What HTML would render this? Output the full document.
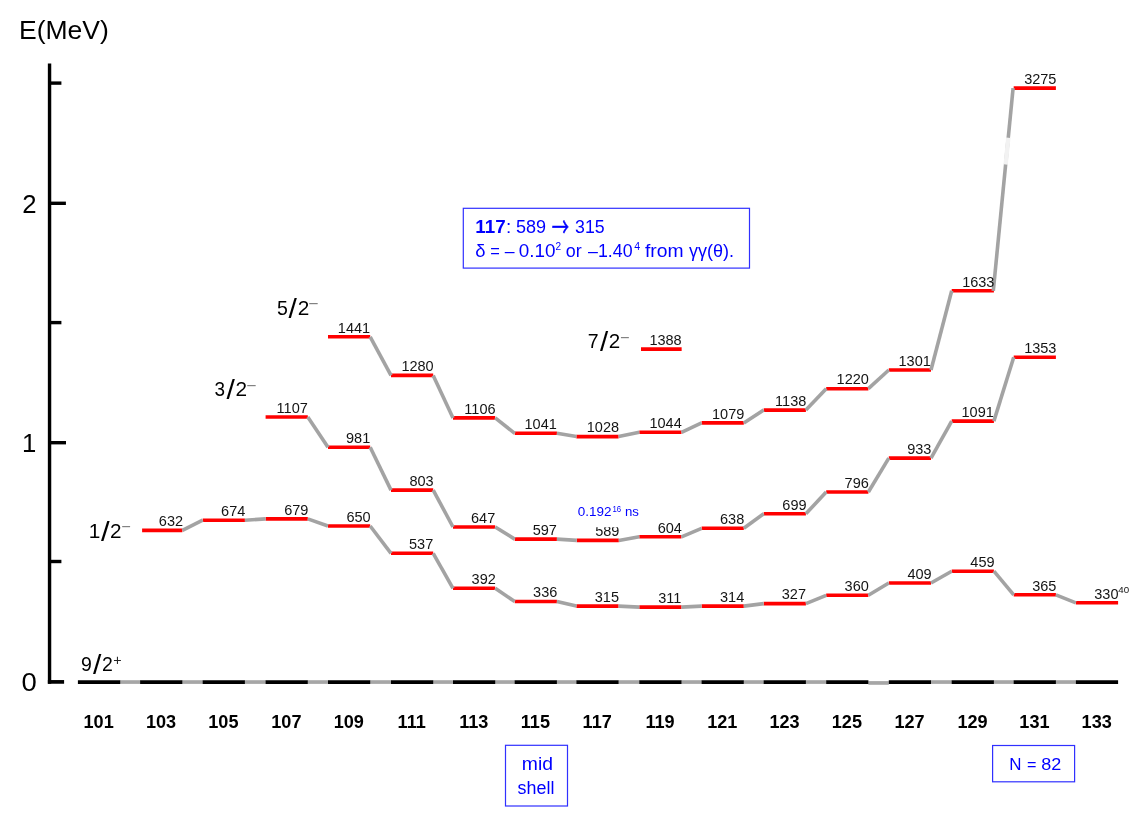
<!DOCTYPE html>
<html lang="en"><head><meta charset="utf-8"><title>Level systematics</title>
<style>html,body{margin:0;padding:0;background:#fff;overflow:hidden}svg{display:block}text{font-family:"Liberation Sans", sans-serif;white-space:pre}</style></head><body>
<svg width="1142" height="819" viewBox="0 0 1142 819">
<rect width="1142" height="819" fill="#fff"/>
<g stroke="#000" stroke-width="3.4" fill="none">
<path d="M49.55 63.5V683.7"/>
<path d="M49.55 83.1H61.4"/>
<path d="M49.55 203.3H65.9"/>
<path d="M49.55 322.6H61.4"/>
<path d="M49.55 442.7H66.0"/>
<path d="M49.55 561.5H61.4"/>
<path stroke-width="3.7" d="M47.85 681.9H64.1"/>
</g>
<g stroke-width="3.7" fill="none">
<path stroke="#a6a6a6" d="M119.9 682.05H140.3"/>
<path stroke="#a6a6a6" d="M181.9 682.05H203.0"/>
<path stroke="#a6a6a6" d="M244.6 682.05H265.9"/>
<path stroke="#a6a6a6" d="M307.5 682.05H328.3"/>
<path stroke="#a6a6a6" d="M369.9 682.05H391.3"/>
<path stroke="#a6a6a6" d="M432.9 682.05H453.3"/>
<path stroke="#a6a6a6" d="M494.9 682.05H515.0"/>
<path stroke="#a6a6a6" d="M556.6 682.05H576.7"/>
<path stroke="#a6a6a6" d="M618.3 682.05H639.6"/>
<path stroke="#a6a6a6" d="M681.2 682.05H701.9"/>
<path stroke="#a6a6a6" d="M743.5 682.05H764.0"/>
<path stroke="#a6a6a6" d="M805.6 682.05H826.5"/>
<path stroke="#a6a6a6" d="M868.4 682.95H888.8"/>
<path stroke="#a6a6a6" d="M930.7 682.05H952.0"/>
<path stroke="#a6a6a6" d="M993.6 682.05H1014.0"/>
<path stroke="#a6a6a6" d="M1055.6 682.05H1076.2"/>
<path stroke="#000" d="M77.9 682.05H120.2"/>
<path stroke="#000" d="M140.1 682.05H182.3"/>
<path stroke="#000" d="M202.7 682.05H244.9"/>
<path stroke="#000" d="M265.6 682.05H307.8"/>
<path stroke="#000" d="M328.0 682.05H370.2"/>
<path stroke="#000" d="M391.0 682.05H433.2"/>
<path stroke="#000" d="M453.0 682.05H495.2"/>
<path stroke="#000" d="M514.7 682.05H556.9"/>
<path stroke="#000" d="M576.4 682.05H618.6"/>
<path stroke="#000" d="M639.3 682.05H681.5"/>
<path stroke="#000" d="M701.6 682.05H743.8"/>
<path stroke="#000" d="M763.7 682.05H805.9"/>
<path stroke="#000" d="M826.2 682.05H868.4"/>
<path stroke="#000" d="M888.8 682.05H931.0"/>
<path stroke="#000" d="M951.7 682.05H993.9"/>
<path stroke="#000" d="M1013.7 682.05H1055.9"/>
<path stroke="#000" d="M1075.9 682.05H1118.1"/>
</g>
<g stroke="#f00" stroke-width="3.6" fill="none">
<path d="M142.1 530.4H182.4"/>
<path d="M202.7 520.2H244.9"/>
<path d="M265.6 518.9H307.8"/>
<path d="M328.0 526.0H370.2"/>
<path d="M391.0 553.3H433.2"/>
<path d="M453.0 588.3H495.2"/>
<path d="M514.7 601.5H556.9"/>
<path d="M576.4 606.1H618.6"/>
<path d="M639.3 607.1H681.5"/>
<path d="M701.6 606.1H743.8"/>
<path d="M763.7 603.6H805.9"/>
<path d="M826.2 595.3H868.4"/>
<path d="M888.8 583.0H931.0"/>
<path d="M951.7 571.2H993.9"/>
<path d="M1013.7 594.8H1055.9"/>
<path d="M1075.9 602.8H1118.1"/>
</g>
<g stroke="#a3a3a3" stroke-width="3.6" fill="none">
<path d="M182.4 530.4L202.7 520.2"/>
<path d="M244.9 520.2L265.6 518.9"/>
<path d="M307.8 518.9L328.0 526.0"/>
<path d="M370.2 526.0L391.0 553.3"/>
<path d="M433.2 553.3L453.0 588.3"/>
<path d="M495.2 588.3L514.7 601.5"/>
<path d="M556.9 601.5L576.4 606.1"/>
<path d="M618.6 606.1L639.3 607.1"/>
<path d="M681.5 607.1L701.6 606.1"/>
<path d="M743.8 606.1L763.7 603.6"/>
<path d="M805.9 603.6L826.2 595.3"/>
<path d="M868.4 595.3L888.8 583.0"/>
<path d="M931.0 583.0L951.7 571.2"/>
<path d="M993.9 571.2L1013.7 594.8"/>
<path d="M1055.9 594.8L1075.9 602.8"/>
</g>
<g stroke="#f00" stroke-width="3.6" fill="none">
<path d="M265.6 417.0H307.8"/>
<path d="M328.0 447.2H370.2"/>
<path d="M391.0 490.1H433.2"/>
<path d="M453.0 527.0H495.2"/>
<path d="M514.7 539.1H556.9"/>
<path d="M576.8 540.4H618.8"/>
<path d="M639.3 536.8H681.5"/>
<path d="M701.6 528.3H743.8"/>
<path d="M763.7 513.8H805.9"/>
<path d="M826.2 492.0H868.4"/>
<path d="M888.8 458.1H931.0"/>
<path d="M951.7 421.1H993.9"/>
<path d="M1013.7 357.2H1055.9"/>
</g>
<g stroke="#a3a3a3" stroke-width="3.6" fill="none">
<path d="M307.8 417.0L328.0 447.2"/>
<path d="M370.2 447.2L391.0 490.1"/>
<path d="M433.2 490.1L453.0 527.0"/>
<path d="M495.2 527.0L514.7 539.1"/>
<path d="M556.9 539.1L576.8 540.4"/>
<path d="M618.8 540.4L639.3 536.8"/>
<path d="M681.5 536.8L701.6 528.3"/>
<path d="M743.8 528.3L763.7 513.8"/>
<path d="M805.9 513.8L826.2 492.0"/>
<path d="M868.4 492.0L888.8 458.1"/>
<path d="M931.0 458.1L951.7 421.1"/>
<path d="M993.9 421.1L1013.7 357.2"/>
</g>
<g stroke="#f00" stroke-width="3.6" fill="none">
<path d="M328.0 336.8H370.2"/>
<path d="M391.0 375.4H433.2"/>
<path d="M453.0 417.9H495.2"/>
<path d="M514.7 433.3H556.9"/>
<path d="M576.4 436.6H618.6"/>
<path d="M639.3 432.3H681.5"/>
<path d="M701.6 422.9H743.8"/>
<path d="M763.7 410.1H805.9"/>
<path d="M826.2 388.7H868.4"/>
<path d="M888.8 370.0H931.0"/>
<path d="M951.7 290.8H993.9"/>
<path d="M1013.7 88.1H1055.9"/>
</g>
<g stroke="#a3a3a3" stroke-width="3.6" fill="none">
<path d="M370.2 336.8L391.0 375.4"/>
<path d="M433.2 375.4L453.0 417.9"/>
<path d="M495.2 417.9L514.7 433.3"/>
<path d="M556.9 433.3L576.4 436.6"/>
<path d="M618.6 436.6L639.3 432.3"/>
<path d="M681.5 432.3L701.6 422.9"/>
<path d="M743.8 422.9L763.7 410.1"/>
<path d="M805.9 410.1L826.2 388.7"/>
<path d="M868.4 388.7L888.8 370.0"/>
<path d="M931.0 370.0L951.7 290.8"/>
<path d="M993.3 290.8L1013.1 88.1"/>
</g>
<path stroke="#f00" stroke-width="3.6" d="M641.0 349.1H681.65"/>
<path stroke="#f2f2f2" stroke-width="4.4" d="M1008.30 137.7L1005.68 164.5"/>
<g fill="#fff" stroke="#3030ff" stroke-width="1.2">
<rect x="463.3" y="208.3" width="286.2" height="59.8"/>
<rect x="505.5" y="745.3" width="62.0" height="60.7"/>
<rect x="992.6" y="745.5" width="82.0" height="36.3"/>
</g>
<text x="158.83" y="526.10" font-size="15.0" fill="#141414" textLength="24.23" lengthAdjust="spacingAndGlyphs">632</text>
<text x="221.07" y="515.90" font-size="15.0" fill="#141414" textLength="24.23" lengthAdjust="spacingAndGlyphs">674</text>
<text x="284.19" y="514.60" font-size="15.0" fill="#141414" textLength="24.23" lengthAdjust="spacingAndGlyphs">679</text>
<text x="346.41" y="521.70" font-size="15.0" fill="#141414" textLength="24.23" lengthAdjust="spacingAndGlyphs">650</text>
<text x="409.03" y="549.00" font-size="15.0" fill="#141414" textLength="24.23" lengthAdjust="spacingAndGlyphs">537</text>
<text x="471.60" y="584.00" font-size="15.0" fill="#141414" textLength="24.23" lengthAdjust="spacingAndGlyphs">392</text>
<text x="533.07" y="597.20" font-size="15.0" fill="#141414" textLength="24.23" lengthAdjust="spacingAndGlyphs">336</text>
<text x="594.79" y="601.80" font-size="15.0" fill="#141414" textLength="24.23" lengthAdjust="spacingAndGlyphs">315</text>
<text x="658.27" y="602.80" font-size="15.0" fill="#141414" textLength="23.16" lengthAdjust="spacingAndGlyphs">311</text>
<text x="720.03" y="601.80" font-size="15.0" fill="#141414" textLength="24.23" lengthAdjust="spacingAndGlyphs">314</text>
<text x="781.75" y="599.28" font-size="15.0" fill="#141414" textLength="24.23" lengthAdjust="spacingAndGlyphs">327</text>
<text x="844.57" y="591.00" font-size="15.0" fill="#141414" textLength="24.23" lengthAdjust="spacingAndGlyphs">360</text>
<text x="907.39" y="578.70" font-size="15.0" fill="#141414" textLength="24.23" lengthAdjust="spacingAndGlyphs">409</text>
<text x="970.36" y="566.90" font-size="15.0" fill="#141414" textLength="24.23" lengthAdjust="spacingAndGlyphs">459</text>
<text x="1032.13" y="590.50" font-size="15.0" fill="#141414" textLength="24.23" lengthAdjust="spacingAndGlyphs">365</text>
<text x="1094.25" y="598.50" font-size="15.0" fill="#141414" textLength="24.23" lengthAdjust="spacingAndGlyphs">330</text>
<text x="276.57" y="412.70" font-size="15.0" fill="#141414" textLength="31.23" lengthAdjust="spacingAndGlyphs">1107</text>
<text x="346.06" y="442.90" font-size="15.0" fill="#141414" textLength="24.23" lengthAdjust="spacingAndGlyphs">981</text>
<text x="409.38" y="485.80" font-size="15.0" fill="#141414" textLength="24.23" lengthAdjust="spacingAndGlyphs">803</text>
<text x="471.00" y="522.70" font-size="15.0" fill="#141414" textLength="24.23" lengthAdjust="spacingAndGlyphs">647</text>
<text x="532.72" y="534.80" font-size="15.0" fill="#141414" textLength="24.23" lengthAdjust="spacingAndGlyphs">597</text>
<text x="595.23" y="536.10" font-size="15.0" fill="#141414" textLength="24.23" lengthAdjust="spacingAndGlyphs">589</text>
<text x="657.66" y="532.50" font-size="15.0" fill="#141414" textLength="24.23" lengthAdjust="spacingAndGlyphs">604</text>
<text x="720.03" y="524.00" font-size="15.0" fill="#141414" textLength="24.23" lengthAdjust="spacingAndGlyphs">638</text>
<text x="782.35" y="509.50" font-size="15.0" fill="#141414" textLength="24.23" lengthAdjust="spacingAndGlyphs">699</text>
<text x="844.57" y="487.70" font-size="15.0" fill="#141414" textLength="24.23" lengthAdjust="spacingAndGlyphs">796</text>
<text x="907.14" y="453.80" font-size="15.0" fill="#141414" textLength="24.23" lengthAdjust="spacingAndGlyphs">933</text>
<text x="961.53" y="416.80" font-size="15.0" fill="#141414" textLength="32.31" lengthAdjust="spacingAndGlyphs">1091</text>
<text x="1024.15" y="352.90" font-size="15.0" fill="#141414" textLength="32.31" lengthAdjust="spacingAndGlyphs">1353</text>
<text x="337.83" y="332.50" font-size="15.0" fill="#141414" textLength="32.31" lengthAdjust="spacingAndGlyphs">1441</text>
<text x="401.40" y="371.10" font-size="15.0" fill="#141414" textLength="32.31" lengthAdjust="spacingAndGlyphs">1280</text>
<text x="464.34" y="413.60" font-size="15.0" fill="#141414" textLength="31.23" lengthAdjust="spacingAndGlyphs">1106</text>
<text x="524.49" y="429.00" font-size="15.0" fill="#141414" textLength="32.31" lengthAdjust="spacingAndGlyphs">1041</text>
<text x="586.81" y="432.30" font-size="15.0" fill="#141414" textLength="32.31" lengthAdjust="spacingAndGlyphs">1028</text>
<text x="649.44" y="428.00" font-size="15.0" fill="#141414" textLength="32.31" lengthAdjust="spacingAndGlyphs">1044</text>
<text x="712.05" y="418.55" font-size="15.0" fill="#141414" textLength="32.31" lengthAdjust="spacingAndGlyphs">1079</text>
<text x="775.09" y="405.80" font-size="15.0" fill="#141414" textLength="31.23" lengthAdjust="spacingAndGlyphs">1138</text>
<text x="836.59" y="384.40" font-size="15.0" fill="#141414" textLength="32.31" lengthAdjust="spacingAndGlyphs">1220</text>
<text x="898.56" y="365.70" font-size="15.0" fill="#141414" textLength="32.31" lengthAdjust="spacingAndGlyphs">1301</text>
<text x="962.13" y="286.50" font-size="15.0" fill="#141414" textLength="32.31" lengthAdjust="spacingAndGlyphs">1633</text>
<text x="1024.15" y="83.80" font-size="15.0" fill="#141414" textLength="32.31" lengthAdjust="spacingAndGlyphs">3275</text>
<text x="649.40" y="344.80" font-size="15.0" fill="#141414" textLength="32.31" lengthAdjust="spacingAndGlyphs">1388</text>
<text x="1118.35" y="593.40" font-size="9.8" fill="#141414" textLength="10.85" lengthAdjust="spacingAndGlyphs">40</text>
<text x="18.94" y="38.90" font-size="25.7" fill="#000" textLength="89.88" lengthAdjust="spacingAndGlyphs">E(MeV)</text>
<text x="22.20" y="212.70" font-size="25.7" fill="#000" textLength="14.30" lengthAdjust="spacingAndGlyphs">2</text>
<text x="21.90" y="451.90" font-size="25.7" fill="#000">1</text>
<text x="21.53" y="690.90" font-size="25.7" fill="#000" textLength="15.29" lengthAdjust="spacingAndGlyphs">0</text>
<text x="88.80" y="537.90" font-size="20.8" fill="#000">1</text>
<text transform="translate(101.00,540.60) scale(1,1.265)" font-size="21.5" fill="#000" textLength="8.66" lengthAdjust="spacingAndGlyphs">/</text>
<text x="110.01" y="537.90" font-size="20.8" fill="#000" textLength="11.52" lengthAdjust="spacingAndGlyphs">2</text>
<text x="214.62" y="396.20" font-size="20.8" fill="#000" textLength="10.54" lengthAdjust="spacingAndGlyphs">3</text>
<text transform="translate(226.50,398.90) scale(1,1.265)" font-size="21.5" fill="#000" textLength="8.36" lengthAdjust="spacingAndGlyphs">/</text>
<text x="235.50" y="396.20" font-size="20.8" fill="#000" textLength="11.58" lengthAdjust="spacingAndGlyphs">2</text>
<text x="276.90" y="314.90" font-size="20.8" fill="#000" textLength="10.88" lengthAdjust="spacingAndGlyphs">5</text>
<text transform="translate(288.60,317.60) scale(1,1.265)" font-size="21.5" fill="#000" textLength="8.36" lengthAdjust="spacingAndGlyphs">/</text>
<text x="297.70" y="314.90" font-size="20.8" fill="#000" textLength="11.58" lengthAdjust="spacingAndGlyphs">2</text>
<text x="587.76" y="348.10" font-size="20.8" fill="#000" textLength="10.85" lengthAdjust="spacingAndGlyphs">7</text>
<text transform="translate(599.90,350.80) scale(1,1.265)" font-size="21.5" fill="#000" textLength="8.17" lengthAdjust="spacingAndGlyphs">/</text>
<text x="608.71" y="348.10" font-size="20.8" fill="#000" textLength="11.46" lengthAdjust="spacingAndGlyphs">2</text>
<text x="81.06" y="671.30" font-size="20.8" fill="#000" textLength="10.85" lengthAdjust="spacingAndGlyphs">9</text>
<text transform="translate(93.00,674.00) scale(1,1.265)" font-size="21.5" fill="#000" textLength="8.36" lengthAdjust="spacingAndGlyphs">/</text>
<text x="102.06" y="671.30" font-size="20.8" fill="#000" textLength="10.85" lengthAdjust="spacingAndGlyphs">2</text>
<text x="121.24" y="532.27" font-size="16" fill="#7d7d7d" textLength="9.52" lengthAdjust="spacingAndGlyphs">−</text>
<text x="246.19" y="390.68" font-size="16" fill="#7d7d7d" textLength="10.13" lengthAdjust="spacingAndGlyphs">−</text>
<text x="308.39" y="308.88" font-size="16" fill="#7d7d7d" textLength="10.13" lengthAdjust="spacingAndGlyphs">−</text>
<text x="620.14" y="342.68" font-size="16" fill="#7d7d7d" textLength="9.52" lengthAdjust="spacingAndGlyphs">−</text>
<text x="113.23" y="664.88" font-size="14" fill="#222" textLength="8.37" lengthAdjust="spacingAndGlyphs">+</text>
<text x="83.52" y="728.20" font-size="18.1" font-weight="bold" fill="#000">101</text>
<text x="145.92" y="728.20" font-size="18.1" font-weight="bold" fill="#000">103</text>
<text x="208.26" y="728.20" font-size="18.1" font-weight="bold" fill="#000">105</text>
<text x="271.26" y="728.20" font-size="18.1" font-weight="bold" fill="#000">107</text>
<text x="333.73" y="728.20" font-size="18.1" font-weight="bold" fill="#000">109</text>
<text x="397.57" y="728.20" font-size="18.1" font-weight="bold" fill="#000">111</text>
<text x="459.17" y="728.20" font-size="18.1" font-weight="bold" fill="#000">113</text>
<text x="520.76" y="728.20" font-size="18.1" font-weight="bold" fill="#000">115</text>
<text x="582.61" y="728.20" font-size="18.1" font-weight="bold" fill="#000">117</text>
<text x="645.48" y="728.20" font-size="18.1" font-weight="bold" fill="#000">119</text>
<text x="707.22" y="728.20" font-size="18.1" font-weight="bold" fill="#000">121</text>
<text x="769.42" y="728.20" font-size="18.1" font-weight="bold" fill="#000">123</text>
<text x="831.76" y="728.20" font-size="18.1" font-weight="bold" fill="#000">125</text>
<text x="894.46" y="728.20" font-size="18.1" font-weight="bold" fill="#000">127</text>
<text x="957.43" y="728.20" font-size="18.1" font-weight="bold" fill="#000">129</text>
<text x="1019.32" y="728.20" font-size="18.1" font-weight="bold" fill="#000">131</text>
<text x="1081.57" y="728.20" font-size="18.1" font-weight="bold" fill="#000">133</text>
<text x="475.35" y="232.90" font-size="18" font-weight="bold" fill="#0000ff" textLength="30.38" lengthAdjust="spacingAndGlyphs">117</text>
<text x="505.92" y="232.90" font-size="18" fill="#0000ff" textLength="5.27" lengthAdjust="spacingAndGlyphs">:</text>
<text x="515.95" y="232.90" font-size="18" fill="#0000ff" textLength="30.05" lengthAdjust="spacingAndGlyphs">589</text>
<text x="551.82" y="237.15" font-size="27" style='font-family:"Noto Sans CJK JP", "Liberation Sans", sans-serif' stroke="#0000ff" stroke-width="0.45" fill="#0000ff" textLength="17.36" lengthAdjust="spacingAndGlyphs">→</text>
<text x="575.06" y="232.90" font-size="18" fill="#0000ff" textLength="29.63" lengthAdjust="spacingAndGlyphs">315</text>
<text x="475.23" y="256.80" font-size="18" fill="#0000ff" textLength="10.27" lengthAdjust="spacingAndGlyphs">δ</text>
<text x="490.32" y="256.80" font-size="18" fill="#0000ff" textLength="9.58" lengthAdjust="spacingAndGlyphs">=</text>
<text x="504.70" y="256.80" font-size="18" fill="#0000ff" textLength="9.82" lengthAdjust="spacingAndGlyphs">–</text>
<text x="518.71" y="256.80" font-size="18" fill="#0000ff" textLength="36.72" lengthAdjust="spacingAndGlyphs">0.10</text>
<text x="555.56" y="250.20" font-size="11.5" fill="#0000ff" textLength="5.61" lengthAdjust="spacingAndGlyphs">2</text>
<text x="565.86" y="256.80" font-size="18" fill="#0000ff" textLength="15.91" lengthAdjust="spacingAndGlyphs">or</text>
<text x="588.00" y="256.80" font-size="18" fill="#0000ff" textLength="44.54" lengthAdjust="spacingAndGlyphs">–1.40</text>
<text x="634.37" y="250.20" font-size="11.5" fill="#0000ff" textLength="5.90" lengthAdjust="spacingAndGlyphs">4</text>
<text x="644.93" y="256.80" font-size="18" fill="#0000ff" textLength="38.61" lengthAdjust="spacingAndGlyphs">from</text>
<text x="689.00" y="256.80" font-size="18" fill="#0000ff" textLength="45.00" lengthAdjust="spacingAndGlyphs">γγ(θ).</text>
<text x="521.86" y="769.90" font-size="18" fill="#0000ff" textLength="31.21" lengthAdjust="spacingAndGlyphs">mid</text>
<text x="517.60" y="793.80" font-size="18" fill="#0000ff" textLength="36.77" lengthAdjust="spacingAndGlyphs">shell</text>
<text x="1009.24" y="769.90" font-size="17.4" fill="#0000ff" textLength="12.24" lengthAdjust="spacingAndGlyphs">N</text>
<text x="1027.10" y="769.90" font-size="17.4" fill="#0000ff" textLength="9.44" lengthAdjust="spacingAndGlyphs">=</text>
<text x="1041.22" y="769.90" font-size="17.4" fill="#0000ff" textLength="20.05" lengthAdjust="spacingAndGlyphs">82</text>
<rect x="570" y="500" width="78" height="27.2" fill="#fff"/>
<text x="577.87" y="516.30" font-size="12.6" fill="#0000ff" textLength="33.69" lengthAdjust="spacingAndGlyphs">0.192</text>
<text x="612.53" y="511.90" font-size="8.3" fill="#0000ff" textLength="8.69" lengthAdjust="spacingAndGlyphs">16</text>
<text x="624.91" y="516.30" font-size="12.6" fill="#0000ff" textLength="13.98" lengthAdjust="spacingAndGlyphs">ns</text>
</svg></body></html>
